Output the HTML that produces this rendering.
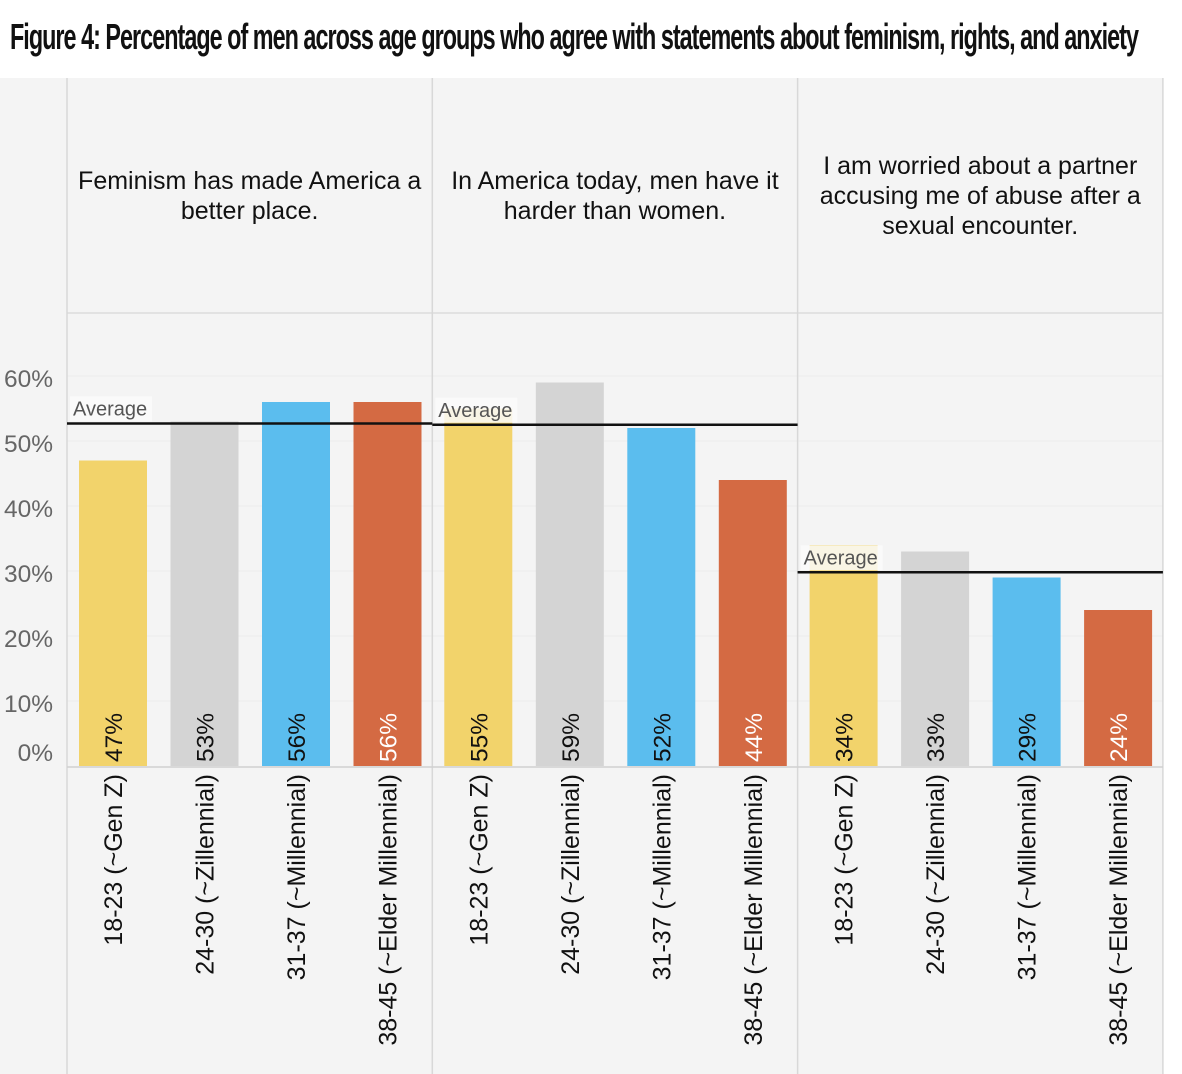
<!DOCTYPE html>
<html><head><meta charset="utf-8">
<style>
html,body{margin:0;padding:0;background:#fff;}
body{width:1182px;height:1074px;overflow:hidden;position:relative;font-family:"Liberation Sans",sans-serif;}
#title{position:absolute;left:10px;top:16px;font-family:"Liberation Sans Narrow","Liberation Sans",sans-serif;font-weight:bold;font-size:36px;letter-spacing:-1.5px;color:#111;white-space:nowrap;transform-origin:0 0;}
svg{position:absolute;left:0;top:0;}
</style></head><body>
<div id="title">Figure 4: Percentage of men across age groups who agree with statements about feminism, rights, and anxiety</div>
<svg id="chart" width="1182" height="1074"></svg>
<script>
const panels = ["Feminism has made America a|better place.","In America today, men have it|harder than women.","I am worried about a partner|accusing me of abuse after a|sexual encounter."];
const categories = ["18-23 (~Gen Z)","24-30 (~Zillennial)","31-37 (~Millennial)","38-45 (~Elder Millennial)"];
const valuesFeminism = [47,53,56,56];
const valuesHarder = [55,59,52,44];
const valuesWorried = [34,33,29,24];
const averages = [52.7,52.5,29.8];
const yTicks = [0,10,20,30,40,50,60];
const colors = ["#f2d36b","#d4d4d4","#5bbdee","#d46a43"];
const labelColors = ["#111","#111","#111","#fff"];

const t = document.getElementById('title');
t.style.transform = 'scaleX(' + (1128 / t.scrollWidth) + ')';

const NS = "http://www.w3.org/2000/svg";
const svg = document.getElementById('chart');
function mk(tag, attrs, parent){const e=document.createElementNS(NS,tag);for(const k in attrs)e.setAttribute(k,attrs[k]);(parent||svg).appendChild(e);return e;}
const base = 766, pxPer = 6.5;
const y = v => base - v*pxPer;
const x0 = 67, pw = 365.3;
const panelX = i => x0 + i*pw;
const barX = (i,j) => panelX(i) + 12 + j*91.5;

let bg = mk('rect',{x:0,y:78,width:1163,height:996,fill:'#f4f4f4'});


mk('line',{x1:67,y1:313,x2:1163,y2:313,stroke:'#dcdcdc','stroke-width':1.5});
yTicks.forEach(v=>{
  if(v>0){mk('line',{x1:67,y1:y(v),x2:1163,y2:y(v),stroke:'#ececec','stroke-width':1});}
  const tx = mk('text',{x:53,y:y(v)+ (v===0?-5:11),'text-anchor':'end','font-size':24.5,fill:'#666'});
  tx.textContent = v+'%';
  
  
});
for(let i=0;i<=3;i++){
  mk('line',{x1:panelX(i),y1:78,x2:panelX(i),y2:1074,stroke:'#d8d8d8','stroke-width':1.5});
}
mk('line',{x1:67,y1:767,x2:1163,y2:767,stroke:'#d0d0d0','stroke-width':1.5});
const allValues = [valuesFeminism, valuesHarder, valuesWorried];
allValues.forEach((vals,i)=>{
  const lines = panels[i].split('|');
  const cx = panelX(i)+pw/2;
  const startY = lines.length===2?189:174;
  lines.forEach((ln,k)=>{
    const tt = mk('text',{x:cx,y:startY+k*30,'text-anchor':'middle','font-size':25,fill:'#111'});
    tt.textContent = ln;
    
    
  });
  vals.forEach((v,j)=>{
    const bx = barX(i,j);
    const r = mk('rect',{x:bx,y:y(v),width:68,height:v*pxPer,fill:colors[j]});
    
    
    const lx = bx+34+9, ly = 762;
    const vl = mk('text',{x:lx,y:ly,transform:`rotate(-90 ${lx} ${ly})`,'font-size':24.5,fill:labelColors[j]});
    vl.textContent = v+'%';
    
    
    const cxl = bx+34+9, cyl = 774;
    const cl = mk('text',{x:cxl,y:cyl,transform:`rotate(-90 ${cxl} ${cyl})`,'font-size':25,fill:'#111','text-anchor':'end'});
    cl.textContent = categories[j];
    
    
  });
  const ay = y(averages[i]);
  const lb = mk('rect',{x:panelX(i)+3,y:ay-27,width:82,height:25,fill:'#fafafa',opacity:0.85});
  
  
  const at = mk('text',{x:panelX(i)+6,y:ay-8,'font-size':20,fill:'#555'});
  at.textContent='Average';
  
  
  const al = mk('line',{x1:panelX(i),y1:ay,x2:panelX(i+1),y2:ay,stroke:'#111','stroke-width':2.5});
  
  
});
</script>
</body></html>
